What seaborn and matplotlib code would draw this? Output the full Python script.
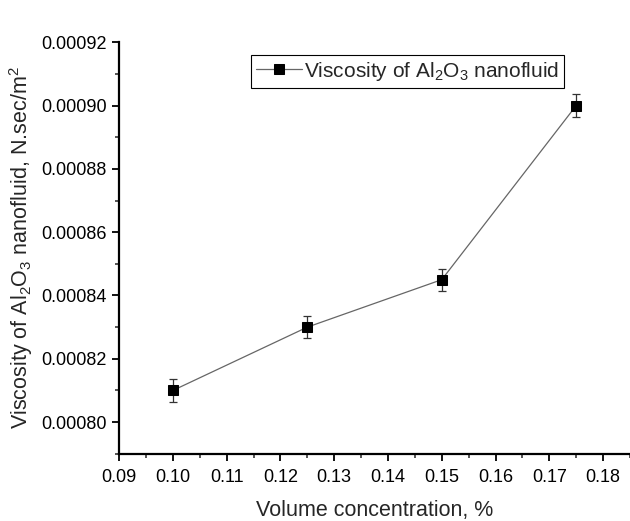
import matplotlib
matplotlib.use("Agg")
import matplotlib.pyplot as plt
import seaborn as sns
import pandas as pd
from matplotlib.ticker import MultipleLocator, AutoMinorLocator

sns.set_style("ticks")
plt.rcParams['font.family'] = ['Liberation Sans', 'DejaVu Sans']
plt.rcParams['mathtext.fontset'] = 'custom'
plt.rcParams['mathtext.rm'] = 'Liberation Sans'
plt.rcParams['mathtext.it'] = 'Liberation Sans'

concentration = [0.10, 0.125, 0.15, 0.175]
viscosity = [0.000810, 0.000830, 0.000845, 0.000900]
error = [0.0000035, 0.0000035, 0.0000035, 0.0000035]

df = pd.DataFrame({"x": concentration, "y": viscosity, "err": error})

fig = plt.figure(figsize=(6.30, 5.21), dpi=100)
ax = fig.add_axes([0.189, 0.129, 0.811, 0.790])

ax.errorbar(df["x"], df["y"], yerr=df["err"], fmt="none", ecolor="#333333",
            elinewidth=0.9, capsize=3, capthick=0.9, zorder=2)
sns.lineplot(data=df, x="x", y="y", ax=ax, color="#666666", linewidth=0.9,
             marker="s", markersize=7, markerfacecolor="black",
             markeredgecolor="black", label=r"Viscosity of Al$_2$O$_3$ nanofluid",
             zorder=3)

ax.set_xlim(0.09, 0.185)
ax.set_ylim(0.00079, 0.00092)
ax.xaxis.set_major_locator(MultipleLocator(0.01))
ax.xaxis.set_minor_locator(AutoMinorLocator(2))
ax.yaxis.set_major_locator(MultipleLocator(0.00002))
ax.yaxis.set_minor_locator(AutoMinorLocator(2))
ax.xaxis.set_major_formatter(matplotlib.ticker.FormatStrFormatter("%.2f"))
ax.yaxis.set_major_formatter(matplotlib.ticker.FormatStrFormatter("%.5f"))

sns.despine(ax=ax)
for s in ["left", "bottom"]:
    ax.spines[s].set_linewidth(1.6)
    ax.spines[s].set_color("black")
ax.tick_params(which="major", direction="out", length=5, width=1.3, labelsize=13,
               colors="black", pad=4)
ax.tick_params(axis="x", which="major", pad=6)
ax.tick_params(which="minor", direction="out", length=3, width=1.1)

ax.set_xlabel("Volume concentration, %", fontsize=15.5, labelpad=10)
ax.set_ylabel(r"Viscosity of Al$_2$O$_3$ nanofluid, N.sec/m$^2$", fontsize=15.5, labelpad=4)

leg = ax.legend(loc="upper left", bbox_to_anchor=(0.258, 0.97), fontsize=15,
                frameon=True, fancybox=False, edgecolor="black", framealpha=1,
                handlelength=2.2, handletextpad=0.1, borderpad=0.25,
                borderaxespad=0.0)
leg.get_frame().set_linewidth(0.8)

fig.savefig("out.png", dpi=100)
